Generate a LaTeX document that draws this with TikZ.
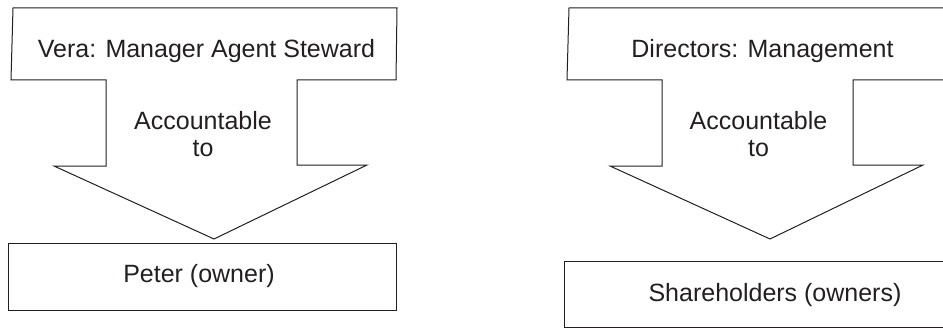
\documentclass[tikz,border=0pt]{standalone}
\usepackage{fontspec}
\setmainfont{Liberation Sans}
\definecolor{ink}{HTML}{231F20}

\begin{document}
\begin{tikzpicture}[x=1pt,y=-1pt,line width=1pt,
    label/.style={inner sep=0pt,text=ink,font=\fontsize{25}{27}\selectfont}]
  \useasboundingbox (0,0) rectangle (943,329);
  \begin{scope}
    \draw[ink] (11,80) -- (13,8) -- (397,8) -- (396,80) -- (297,80)
      -- (297,165) -- (367,165) -- (214,239) -- (54,166) -- (106,166)
      -- (106,80) -- cycle;
    \draw[ink] (8,243) rectangle (396,310);
    \node[label,anchor=base] (manager) at (206.5,58) {Vera: Manager Agent Steward};
    \node[label,align=center] (acc) at (203,134) {Accountable\\to};
    \node[label,anchor=base] (owner) at (199,282) {Peter (owner)};
  \end{scope}
  \begin{scope}[xshift=556pt]
    \draw[ink] (11,80) -- (13,8) -- (397,8) -- (396,80) -- (297,80)
      -- (297,165) -- (367,165) -- (214,239) -- (54,166) -- (106,166)
      -- (106,80) -- cycle;
    \draw[ink] (8,261) rectangle (396,327.5);
    \node[label,anchor=base] (directors) at (206.5,58) {Directors: Management};
    \node[label,align=center] (acc2) at (202.5,134) {Accountable\\to};
    \node[label,anchor=base] (holders) at (219,301) {Shareholders (owners)};
  \end{scope}
\end{tikzpicture}
\end{document}
